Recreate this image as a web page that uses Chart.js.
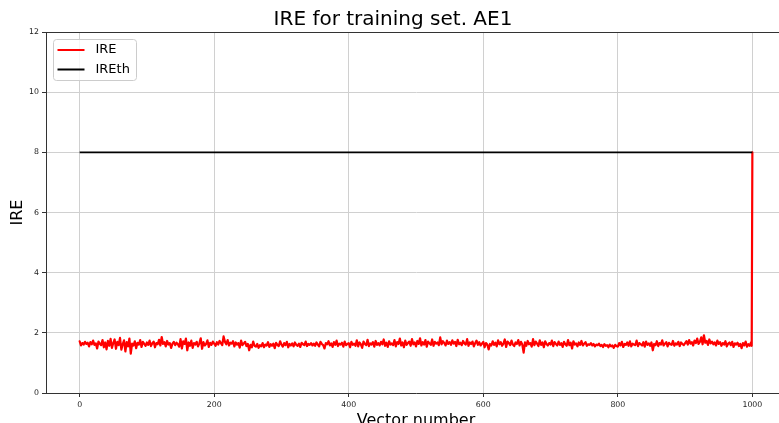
<!DOCTYPE html>
<html>
<head>
<meta charset="utf-8">
<script src="https://cdn.jsdelivr.net/npm/chart.js@4"></script>
<style>
    html, body { margin: 0; padding: 0; background: #fff; overflow: hidden; }
    #ireChart { position: absolute; left: 0; top: 0; }
</style>
</head>
<body>
<canvas id="ireChart" width="832" height="440"></canvas>
<script>
// IRE for every 2nd vector (0, 2, 4 ... 998)
var ireValues = [
    1.72, 1.58, 1.66, 1.61, 1.70, 1.63, 1.67, 1.55, 1.69, 1.62, 1.74, 1.60, 1.65, 1.48, 1.71, 1.64, 1.59, 1.76, 1.52, 1.68, 1.45, 1.73, 1.57, 1.80, 1.50,
    1.66, 1.78, 1.47, 1.70, 1.59, 1.83, 1.44, 1.62, 1.75, 1.38, 1.69, 1.55, 1.81, 1.31, 1.64, 1.58, 1.72, 1.49, 1.67, 1.61, 1.76, 1.53, 1.70, 1.63, 1.57,
    1.68, 1.60, 1.74, 1.56, 1.65, 1.71, 1.52, 1.66, 1.62, 1.77, 1.58, 1.86, 1.63, 1.69, 1.55, 1.73, 1.61, 1.66, 1.50, 1.64, 1.70, 1.59, 1.67, 1.62, 1.54,
    1.79, 1.48, 1.72, 1.63, 1.81, 1.42, 1.68, 1.57, 1.74, 1.50, 1.66, 1.61, 1.70, 1.55, 1.65, 1.82, 1.47, 1.69, 1.58, 1.63, 1.75, 1.53, 1.67, 1.60, 1.71,
    1.64, 1.57, 1.69, 1.61, 1.73, 1.66, 1.59, 1.88, 1.70, 1.62, 1.76, 1.58, 1.67, 1.64, 1.72, 1.55, 1.68, 1.61, 1.66, 1.51, 1.74, 1.59, 1.65, 1.70, 1.56,
    1.63, 1.42, 1.60, 1.52, 1.71, 1.57, 1.54, 1.63, 1.50, 1.59, 1.55, 1.66, 1.52, 1.61, 1.58, 1.69, 1.53, 1.62, 1.57, 1.64, 1.49, 1.67, 1.60, 1.56, 1.72,
    1.61, 1.54, 1.66, 1.59, 1.70, 1.52, 1.63, 1.58, 1.65, 1.55, 1.68, 1.60, 1.57, 1.64, 1.53, 1.67, 1.62, 1.59, 1.71, 1.56, 1.63, 1.60, 1.66, 1.58, 1.64,
    1.57, 1.68, 1.61, 1.55, 1.70, 1.63, 1.59, 1.48, 1.66, 1.62, 1.72, 1.58, 1.65, 1.53, 1.69, 1.60, 1.74, 1.56, 1.64, 1.61, 1.67, 1.54, 1.71, 1.59, 1.63,
    1.66, 1.52, 1.70, 1.60, 1.64, 1.57, 1.75, 1.55, 1.68, 1.62, 1.50, 1.71, 1.63, 1.59, 1.77, 1.56, 1.65, 1.61, 1.69, 1.54, 1.73, 1.60, 1.66, 1.58, 1.70,
    1.62, 1.78, 1.57, 1.67, 1.53, 1.72, 1.61, 1.65, 1.59, 1.76, 1.55, 1.69, 1.63, 1.81, 1.58, 1.68, 1.52, 1.74, 1.60, 1.66, 1.71, 1.57, 1.79, 1.62, 1.68,
    1.55, 1.73, 1.63, 1.82, 1.58, 1.69, 1.61, 1.76, 1.54, 1.71, 1.65, 1.60, 1.78, 1.57, 1.70, 1.64, 1.68, 1.59, 1.85, 1.62, 1.72, 1.66, 1.58, 1.74, 1.63,
    1.69, 1.60, 1.75, 1.64, 1.70, 1.56, 1.77, 1.62, 1.67, 1.59, 1.73, 1.65, 1.61, 1.79, 1.57, 1.68, 1.63, 1.71, 1.55, 1.66, 1.74, 1.60, 1.69, 1.58, 1.64,
    1.70, 1.52, 1.66, 1.61, 1.45, 1.63, 1.58, 1.72, 1.60, 1.67, 1.55, 1.75, 1.62, 1.69, 1.57, 1.64, 1.78, 1.53, 1.71, 1.66, 1.59, 1.74, 1.61, 1.56, 1.68,
    1.63, 1.76, 1.58, 1.70, 1.61, 1.34, 1.68, 1.57, 1.73, 1.62, 1.66, 1.54, 1.79, 1.59, 1.71, 1.64, 1.56, 1.75, 1.60, 1.68, 1.52, 1.72, 1.63, 1.58, 1.66,
    1.61, 1.74, 1.56, 1.69, 1.63, 1.58, 1.71, 1.60, 1.66, 1.53, 1.70, 1.62, 1.57, 1.76, 1.59, 1.67, 1.48, 1.72, 1.61, 1.65, 1.55, 1.68, 1.60, 1.73, 1.58,
    1.64, 1.69, 1.57, 1.62, 1.60, 1.66, 1.58, 1.63, 1.55, 1.61, 1.59, 1.64, 1.56, 1.60, 1.53, 1.62, 1.57, 1.59, 1.52, 1.61, 1.55, 1.58, 1.50, 1.60, 1.56,
    1.54, 1.66, 1.58, 1.70, 1.53, 1.63, 1.60, 1.68, 1.57, 1.72, 1.55, 1.64, 1.61, 1.59, 1.74, 1.56, 1.66, 1.62, 1.58, 1.69, 1.54, 1.71, 1.60, 1.65, 1.57,
    1.68, 1.42, 1.63, 1.59, 1.72, 1.56, 1.66, 1.61, 1.75, 1.58, 1.64, 1.69, 1.55, 1.67, 1.62, 1.60, 1.73, 1.57, 1.65, 1.61, 1.70, 1.56, 1.68, 1.63, 1.59,
    1.66, 1.72, 1.61, 1.76, 1.64, 1.69, 1.58, 1.74, 1.66, 1.81, 1.63, 1.70, 1.85, 1.62, 1.92, 1.67, 1.73, 1.60, 1.78, 1.65, 1.71, 1.62, 1.68, 1.58, 1.74,
    1.63, 1.69, 1.57, 1.66, 1.61, 1.72, 1.55, 1.64, 1.68, 1.59, 1.70, 1.53, 1.65, 1.61, 1.67, 1.56, 1.63, 1.49, 1.66, 1.58, 1.71, 1.54, 1.62, 1.57, 1.68
];
var ireStep = 2;
// last two vectors: the jump up to the threshold
var ireTailX = [999, 1000];
var ireTailY = [1.57, 8];

var thX = [0, 1000];
var thY = [8, 8];

var xTicks = [0, 200, 400, 600, 800, 1000];
var yTicks = [0, 2, 4, 6, 8, 10, 12];

var ireData = [];
for (let i = 0; i < ireValues.length; i++) {
    ireData.push({ x: i * ireStep, y: ireValues[i] });
}
for (let i = 0; i < ireTailX.length; i++) {
    ireData.push({ x: ireTailX[i], y: ireTailY[i] });
}
var thData = [];
for (let i = 0; i < thX.length; i++) {
    thData.push({ x: thX[i], y: thY[i] });
}

var fam = "'DejaVu Sans', sans-serif";

// top + right spines like matplotlib
var boxPlugin = {
    id: 'box',
    afterDraw: function (chart) {
        var a = chart.chartArea;
        var c = chart.ctx;
        c.save();
        c.strokeStyle = '#333';
        c.lineWidth = 1;
        c.beginPath();
        c.moveTo(a.left, a.top + 0.5);
        c.lineTo(a.right, a.top + 0.5);
        c.moveTo(a.right - 0.5, a.top);
        c.lineTo(a.right - 0.5, a.bottom);
        c.stroke();
        c.restore();
    }
};

// legend inside the plot, upper left
var legendPlugin = {
    id: 'innerLegend',
    afterDraw: function (chart) {
        var c = chart.ctx;
        var a = chart.chartArea;
        var x = a.left + 7.5, y = a.top + 7.5, w = 83, h = 41;
        c.save();
        c.fillStyle = 'rgba(255,255,255,0.8)';
        c.strokeStyle = '#cccccc';
        c.lineWidth = 1;
        c.beginPath();
        c.roundRect(x, y, w, h, 3);
        c.fill();
        c.stroke();
        c.font = '13px ' + fam;
        c.textBaseline = 'middle';
        chart.data.datasets.forEach(function (ds, i) {
            var ly = y + 10.5 + i * 19.5;
            c.strokeStyle = ds.borderColor;
            c.lineWidth = 2;
            c.beginPath();
            c.moveTo(x + 4, ly);
            c.lineTo(x + 31, ly);
            c.stroke();
            c.fillStyle = '#000';
            c.fillText(ds.label, x + 42, ly);
        });
        c.restore();
    }
};

function plainTick(value) {
    return String(value);
}

var ireChart = new Chart(document.getElementById('ireChart').getContext('2d'), {
    type: 'line',
    data: {
        datasets: [
            {
                label: 'IRE',
                data: ireData,
                borderColor: '#ff0000',
                borderWidth: 2.2,
                borderJoinStyle: 'round',
                borderCapStyle: 'round',
                pointRadius: 0,
                tension: 0,
                order: 1
            },
            {
                label: 'IREth',
                data: thData,
                borderColor: '#000000',
                borderWidth: 1.8,
                pointRadius: 0,
                tension: 0,
                order: 0
            }
        ]
    },
    options: {
        responsive: false,
        animation: false,
        layout: {
            padding: { left: 0, top: 0, right: 46, bottom: 0 }
        },
        scales: {
            x: {
                type: 'linear',
                min: -50,
                max: 1050,
                afterFit: function (s) { s.height = 47; },
                afterBuildTicks: function (s) {
                    s.ticks = xTicks.map(function (v) { return { value: v }; });
                },
                ticks: {
                    color: '#222',
                    font: { family: fam, size: 7.8 },
                    padding: 3,
                    maxRotation: 0,
                    callback: plainTick
                },
                grid: {
                    color: '#d0d0d0',
                    tickColor: '#333',
                    tickLength: 4
                },
                border: { color: '#333', width: 1 },
                title: {
                    display: true,
                    text: 'Vector number',
                    color: '#000',
                    font: { family: fam, size: 16 },
                    padding: { top: 0, bottom: 10 }
                }
            },
            y: {
                min: 0,
                max: 12,
                afterFit: function (s) { s.width = 46; },
                afterBuildTicks: function (s) {
                    s.ticks = yTicks.map(function (v) { return { value: v }; });
                },
                ticks: {
                    color: '#222',
                    font: { family: fam, size: 7.8 },
                    padding: 3,
                    callback: plainTick
                },
                grid: {
                    color: '#d0d0d0',
                    tickColor: '#333',
                    tickLength: 4
                },
                border: { color: '#333', width: 1 },
                title: {
                    display: true,
                    text: 'IRE',
                    color: '#000',
                    font: { family: fam, size: 16 },
                    padding: { top: 8, bottom: 0 }
                }
            }
        },
        plugins: {
            legend: { display: false },
            tooltip: { enabled: false },
            title: {
                display: true,
                text: 'IRE for training set. AE1',
                color: '#000',
                font: { family: fam, size: 20, weight: 'normal' },
                padding: { top: 8, bottom: 0 }
            }
        }
    },
    plugins: [boxPlugin, legendPlugin]
});
</script>
</body>
</html>
